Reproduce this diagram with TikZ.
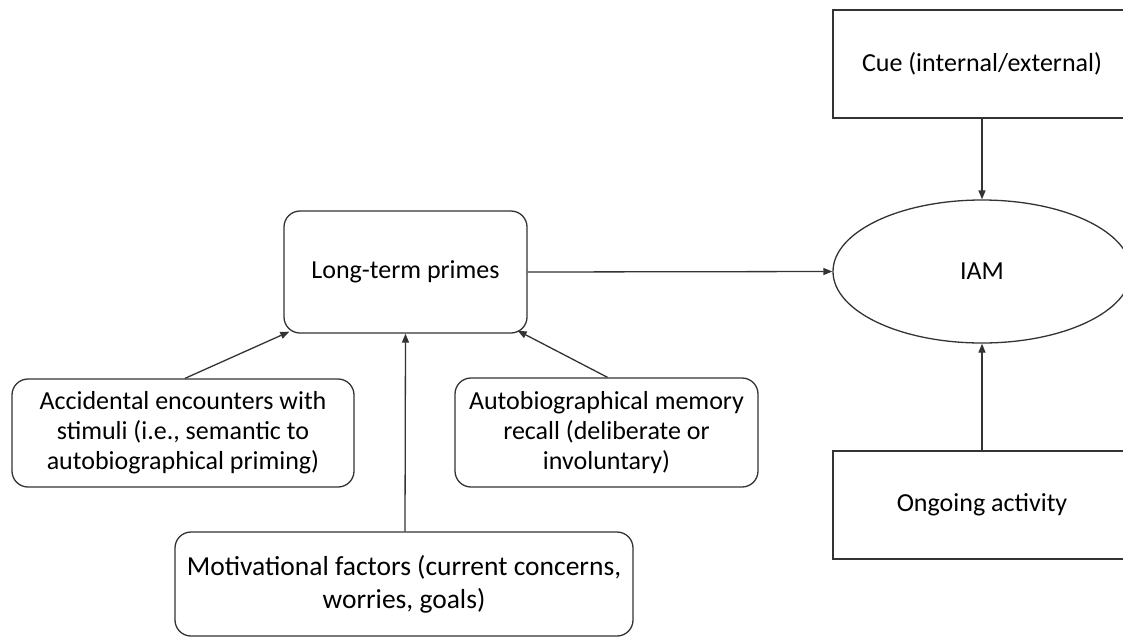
\documentclass[tikz,border=0pt]{standalone}
\usepackage{fontspec}
\setmainfont{Carlito}
\usetikzlibrary{shapes.geometric,arrows.meta,calc}
\tikzset{
  base/.style={draw=black!80, line width=1.3pt, align=center, inner sep=0pt,
    font=\fontsize{26}{30}\selectfont, text=black},
  sqbox/.style={base, rectangle},
  rbox/.style={base, rectangle, rounded corners=16pt},
  oval/.style={base, ellipse},
  conn/.style={draw=black!80, line width=1.3pt, -{Triangle[length=9pt,width=7pt]}}
}
\begin{document}
\begin{tikzpicture}[x=1pt,y=-1pt]
\clip (0,0) rectangle (1123,638);
\fill[white] (0,0) rectangle (1123,638);
\node[sqbox, minimum width=298pt, minimum height=108pt] (cue) at (982,64) {Cue (internal/external)};
\node[oval, minimum width=298pt, minimum height=143pt] (iam) at (982,271.5) {IAM};
\node[sqbox, minimum width=298pt, minimum height=108pt] (ong) at (982,505) {Ongoing activity};
\node[rbox, minimum width=243pt, minimum height=122pt] (ltp) at (405.5,272) {Long-term primes};
\node[rbox, minimum width=342pt, minimum height=108pt] (acc) at (183,433) {Accidental encounters with\\stimuli (i.e., semantic to\\autobiographical priming)};
\node[rbox, minimum width=303pt, minimum height=109pt] (aut) at (606.5,432.5) {Autobiographical memory\\recall (deliberate or\\involuntary)};
\node[rbox, minimum width=458pt, minimum height=104pt, font=\fontsize{27.5}{33}\selectfont] (mot) at (404,584) {Motivational factors (current concerns,\\worries, goals)};
\draw[conn] (cue.south) -- (iam.north);
\draw[conn] (ong.north) -- (iam.south);
\draw[conn] (ltp.east) -- (iam.west);
\draw[conn] ($(acc.north)+(2,0)$) -- ($(ltp.south west)+(6,-2)$);
\draw[conn] ($(aut.north)+(1,0)$) -- ($(ltp.south east)+(-10,-3)$);
\draw[conn] ($(mot.north)+(1,0)$) -- (ltp.south);
\end{tikzpicture}
\end{document}
